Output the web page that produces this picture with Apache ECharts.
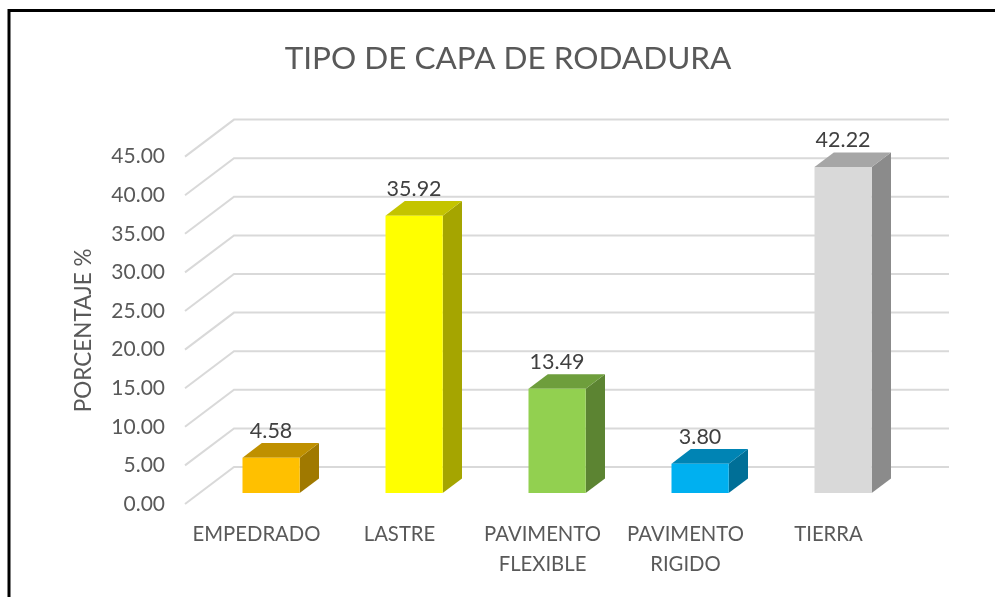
<!DOCTYPE html>
<html><head><meta charset="utf-8">
<style>html,body{margin:0;padding:0;background:#fff}#c{width:995px;height:597px}</style>
<script src="https://cdn.jsdelivr.net/npm/echarts@6/dist/echarts.min.js"></script>
</head><body><div id="c"></div>
<script>
const categories = ['EMPEDRADO','LASTRE','PAVIMENTO\nFLEXIBLE','PAVIMENTO\nRIGIDO','TIERRA'];
const values = [4.58,35.92,13.49,3.80,42.22];
const yTicks = [0,5,10,15,20,25,30,35,40,45];
const frontColors = ['#FFC000','#FFFF00','#92D050','#00B0F0','#D9D9D9'];
const topColors = ['#BF9000','#C4C400','#6E9E3C','#0084B4','#A6A6A6'];
const sideColors = ['#A07900','#A5A500','#5C8432','#006F97','#8B8B8B'];
const title = 'TIPO DE CAPA DE RODADURA';
const yName = 'PORCENTAJE %';

const WALL = [49,-37], GAP = [14.6,-11], DEPTH = [19.3,-14.6];
const chart = echarts.init(document.getElementById('c'),null,{renderer:'canvas'});
const poly = (points,fill)=>({type:'polygon',shape:{points},style:{fill,stroke:null}});
chart.setOption({
  animation:false,
  backgroundColor:'#fff',
  title:{text:title,left:503,top:38,textAlign:'center',textStyle:{fontFamily:'Lato',fontSize:31.5,fontWeight:'normal',color:'#595959'}},
  grid:{left:185,top:156.6,width:715,height:347.4,containLabel:false},
  xAxis:{type:'category',data:categories,axisLine:{show:false},axisTick:{show:false},splitLine:{show:false},
    axisLabel:{fontFamily:'Lato',fontSize:20.3,color:'#595959',margin:15,lineHeight:30,interval:0,verticalAlign:'top'}},
  yAxis:{type:'value',min:0,max:45,interval:5,name:yName,nameLocation:'middle',nameGap:90,
    nameTextStyle:{fontFamily:'Lato',fontSize:22.5,color:'#595959'},
    axisLine:{show:false},axisTick:{show:false},splitLine:{show:false},
    axisLabel:{fontFamily:'Lato',fontSize:21,color:'#595959',margin:20,formatter:v=>v.toFixed(2)}},
  graphic:[{type:'polyline',z:100,shape:{points:[[9,597],[9,10.5],[995,10.5]]},style:{stroke:'#000',lineWidth:3,fill:null}}],
  series:[
    {type:'custom',coordinateSystem:'cartesian2d',silent:true,z:1,clip:false,
     data:yTicks.map(t=>[0,t]),
     renderItem:(p,api)=>{
       const y=api.coord([0,api.value(1)])[1], g=p.coordSys;
       return {type:'polyline',shape:{points:[[g.x,y],[g.x+WALL[0],y+WALL[1]],[g.x+g.width+WALL[0],y+WALL[1]]]},
         style:{stroke:'#D9D9D9',lineWidth:2,fill:null}};
     }},
    {type:'custom',coordinateSystem:'cartesian2d',silent:true,z:2,clip:false,
     encode:{x:0,y:1},
     data:values.map((v,i)=>[i,v]),
     renderItem:(p,api)=>{
       const i=api.value(0), v=api.value(1);
       const top=api.coord([i,v]), base=api.coord([i,0]);
       const w=api.size([1,0])[0]*0.4;
       const xl=top[0]-w/2+GAP[0], xr=xl+w, yt=top[1]+GAP[1], yb=base[1]+GAP[1];
       const dx=DEPTH[0], dy=DEPTH[1];
       return {type:'group',children:[
         poly([[xr,yt],[xr+dx,yt+dy],[xr+dx,yb+dy],[xr,yb]],sideColors[i]),
         poly([[xl,yt],[xl+dx,yt+dy],[xr+dx,yt+dy],[xr,yt]],topColors[i]),
         poly([[xl,yt],[xr,yt],[xr,yb],[xl,yb]],frontColors[i]),
         {type:'text',x:(xl+xr)/2,y:yt-26.5,style:{text:v.toFixed(2),fill:'#404040',fontFamily:'Lato',fontSize:21.5,align:'center',verticalAlign:'middle'}}
       ]};
     }}
  ]
});
</script></body></html>
